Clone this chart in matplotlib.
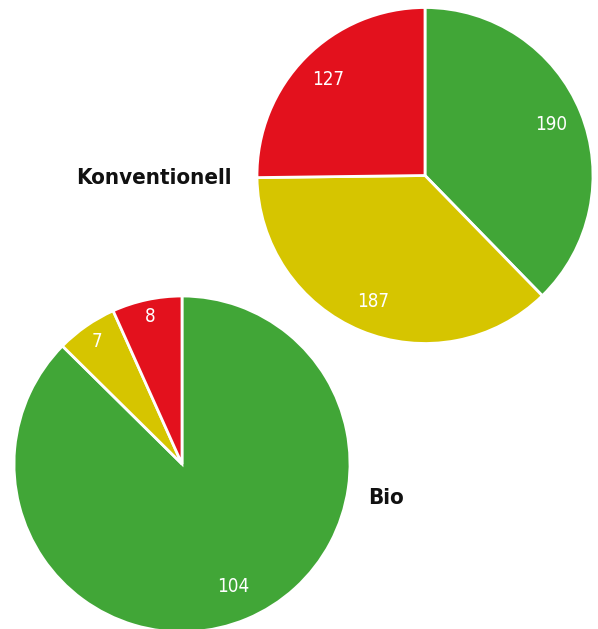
import matplotlib
matplotlib.use("Agg")
import matplotlib.pyplot as plt
import numpy as np

# Anzahl je Kategorie (grün, gelb, rot)
konventionell = [190, 187, 127]
bio = [104, 7, 8]
farben = ["#41a637", "#d6c500", "#e3111d"]

plt.rcParams["font.family"] = ["DejaVu Sans"]
plt.rcParams["font.stretch"] = "condensed"

fig = plt.figure(figsize=(5.98, 6.29), dpi=100)
ax = fig.add_axes([0, 0, 1, 1])
ax.set_xlim(0, 598)
ax.set_ylim(0, 629)
ax.set_aspect("equal")
ax.axis("off")

def torte(werte, mitte, abstaende):
    r = 168
    keile, _ = ax.pie(
        werte, colors=farben,
        startangle=90, counterclock=False, center=mitte, radius=r,
        wedgeprops=dict(edgecolor="white", linewidth=2),
    )
    # Beschriftung in der Mitte jedes Keils
    for keil, wert, d in zip(keile, werte, abstaende):
        winkel = np.deg2rad((keil.theta1 + keil.theta2) / 2)
        x = mitte[0] + d * r * np.cos(winkel)
        y = mitte[1] + d * r * np.sin(winkel)
        ax.text(x, y, str(wert), ha="center", va="center", color="white",
                fontsize=13.5, fontstretch="condensed")
    return keile

torte(konventionell, (425, 453.5), [0.81, 0.81, 0.81])
torte(bio, (182, 165), [0.79, 0.89, 0.90])

ax.set_xlim(0, 598)
ax.set_ylim(0, 629)

ax.text(232, 451, "Konventionell", ha="right", va="center",
        fontsize=16, fontweight="bold", fontstretch="condensed", color="#111111")
ax.text(368, 131, "Bio", ha="left", va="center",
        fontsize=16, fontweight="bold", fontstretch="condensed", color="#111111")

fig.savefig("out.png", dpi=100)
